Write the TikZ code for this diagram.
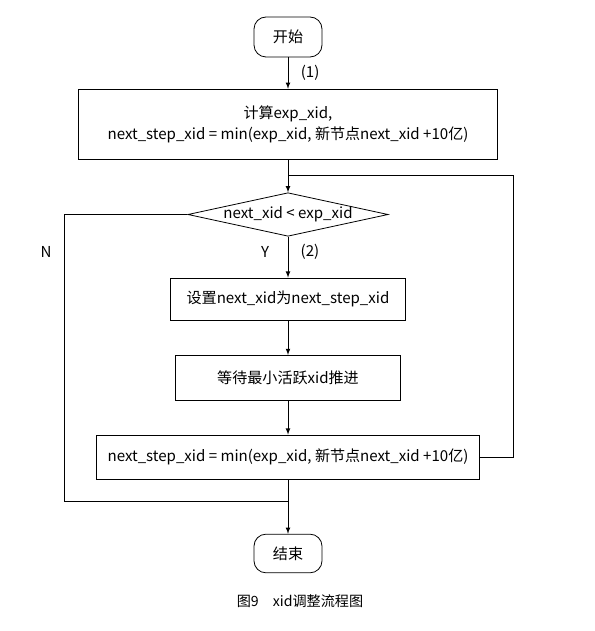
\documentclass[tikz,border=0pt]{standalone}
\usepackage{fontspec}
\setmainfont{Noto Sans CJK SC}
\usetikzlibrary{arrows,shapes.geometric}

\tikzset{
	term/.style={draw, rounded corners=9pt, minimum width=51pt, minimum height=30pt, inner sep=0pt},
	proc/.style={draw, inner sep=0pt, align=center},
	cond/.style={draw, diamond, shape aspect=4.6, minimum width=145pt, minimum height=31.5pt, inner sep=0pt},
}

\begin{document}
\begin{tikzpicture}[x=0.75pt, y=-0.75pt, >=latex, line width=0.6pt, font=\fontsize{11.3}{15.5}\selectfont]
			\useasboundingbox (0,0) rectangle (594,631);

			\node[term] (start) at (288, 37) {开始};
			\node[proc, minimum width=314pt, minimum height=53pt] (B1) at (288, 124.5) {计算exp\_xid,\\next\_step\_xid = min(exp\_xid, 新节点next\_xid +10亿)};
			\node[cond] (D) at (288, 214.5) {next\_xid < exp\_xid};
			\node[proc, minimum width=176pt, minimum height=31.5pt] (B2) at (288, 299) {设置next\_xid为next\_step\_xid};
			\node[proc, minimum width=169pt, minimum height=34pt] (B3) at (288, 378) {等待最小活跃xid推进};
			\node[proc, minimum width=287pt, minimum height=33pt] (B4) at (288, 457) {next\_step\_xid = min(exp\_xid, 新节点next\_xid +10亿)};
			\node[term, minimum height=29pt] (E) at (288, 553.5) {结束};

			\coordinate (J) at (288, 175);
			\coordinate (R) at (513, 175);
			\coordinate (L) at (64, 501);
			\coordinate (M) at (288, 501);

			\draw[->] (start) -- node[right, xshift=6pt]{(1)} (B1);
			\draw[->] (B1) -- (D);
			\draw[->] (D) -- (B2);
			\draw[->] (B2) -- (B3);
			\draw[->] (B3) -- (B4);
			\draw[->] (B4) -- (E);

			% loop back to the test
			\draw (B4.east) -| (R) -- (J);
			% N branch
			\draw (D.west) -| (L) -- (M);

			\node (Y) at (265, 252) {Y};
			\node (n2) at (310, 252) {(2)};
			\node (N) at (46, 252) {N};

			\node[font=\fontsize{10.6}{13}\selectfont] (cap) at (300, 601) {图9\hspace{1em}xid调整流程图};
		\end{tikzpicture}
\end{document}
